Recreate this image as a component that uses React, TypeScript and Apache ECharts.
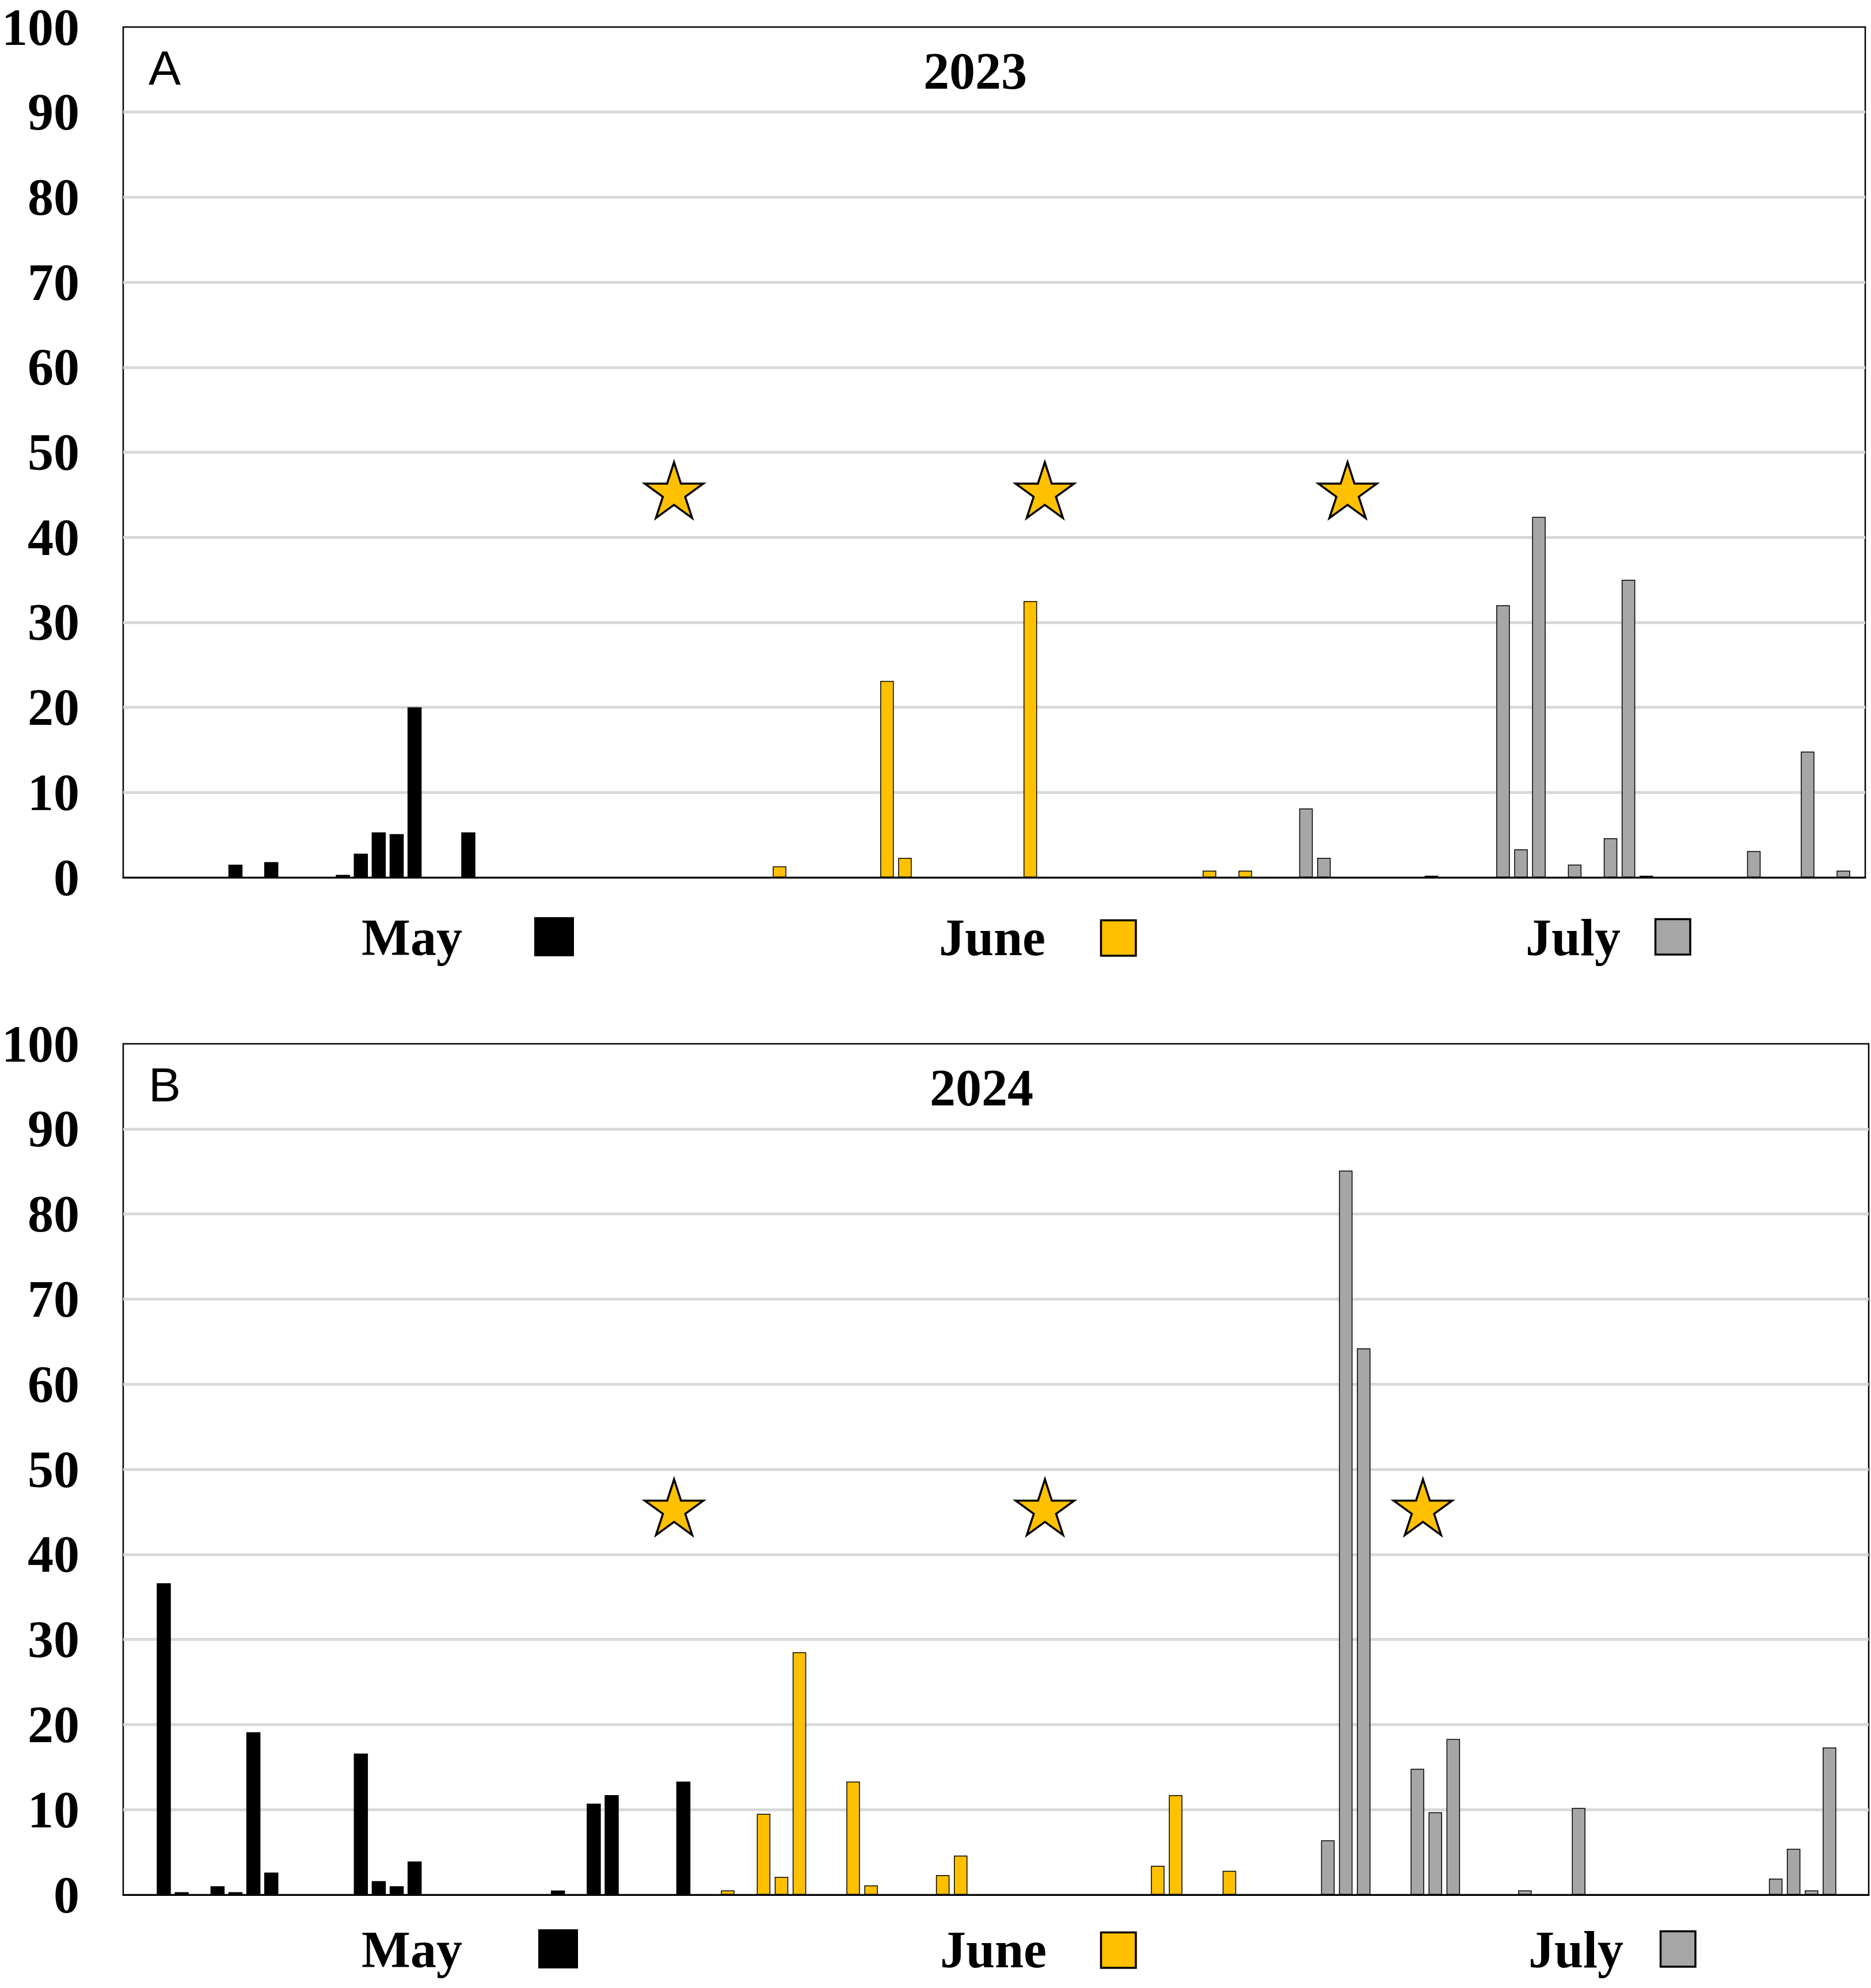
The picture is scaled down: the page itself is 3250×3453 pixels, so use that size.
import React, { useEffect, useRef } from "react";
import * as echarts from "echarts";

// ---- data (slot = day position on the shared x axis) ----
const may2023Days = [6, 8, 12, 13, 14, 15, 16, 19];
const may2023Values = [1.5, 1.8, 0.3, 2.8, 5.3, 5.1, 20.0, 5.3];
const june2023Days = [36, 42, 43, 50, 60, 62];
const june2023Values = [1.3, 23.1, 2.3, 32.5, 0.8, 0.8];
const july2023Days = [65, 66, 72, 76, 77, 78, 80, 82, 83, 84, 90, 93, 95];
const july2023Values = [8.1, 2.3, 0.2, 32.0, 3.3, 42.4, 1.5, 4.6, 35.0, 0.2, 3.1, 14.8, 0.8];
const stars2023Days = [30.5, 51.2, 68.1];

const may2024Days = [2, 3, 5, 6, 7, 8, 13, 14, 15, 16, 24, 26, 27, 31];
const may2024Values = [36.6, 0.3, 1.0, 0.3, 19.1, 2.6, 16.6, 1.6, 1.0, 3.9, 0.5, 10.7, 11.7, 13.3];
const june2024Days = [33, 35, 36, 37, 40, 41, 45, 46, 57, 58, 61];
const june2024Values = [0.5, 9.5, 2.1, 28.5, 13.3, 1.1, 2.3, 4.6, 3.4, 11.7, 2.8];
const july2024Days = [66, 67, 68, 71, 72, 73, 77, 80, 91, 92, 93, 94];
const july2024Values = [6.4, 85.1, 64.2, 14.8, 9.7, 18.3, 0.5, 10.2, 1.9, 5.4, 0.5, 17.3];
const stars2024Days = [30.5, 51.2, 72.3];

const starLevel = 45;
const monthNames = ["May", "June", "July"];
const panelYears = ["2023", "2024"];
const panelLetters = ["A", "B"];

// ---- styles ----
const MONTH_COLORS = ["#000000", "#FFC000", "#A6A6A6"];
const SERIF = "'Liberation Serif', 'Times New Roman', serif";
const SANS = "'Liberation Sans', Arial, sans-serif";

function starPath(): string {
  const R = 50;
  const r = 19;
  const pts: string[] = [];
  for (let k = 0; k < 10; k++) {
    const a = ((-90 + k * 36) * Math.PI) / 180;
    const rad = k % 2 === 0 ? R : r;
    pts.push(`${(50 + rad * Math.cos(a)).toFixed(2)} ${(50 + rad * Math.sin(a)).toFixed(2)}`);
  }
  return "path://M" + pts.join(" L") + " Z";
}

const pair = (days: number[], vals: number[], off: number) =>
  days.map((d, i) => [d + off, vals[i]]);

export default function App() {
  const ref = useRef<HTMLDivElement>(null);

  useEffect(() => {
    document.body.style.margin = "0";
    const chart = echarts.init(ref.current!, null, { renderer: "svg" });

    const grids = [
      { left: 210, top: 47, width: 3030, height: 1477 },
      { left: 210, top: 1813, width: 3036, height: 1478 },
    ];
    const axisMax = [97, 97.18];
    // horizontal cluster offset of gold / gray bars in each panel (in slots)
    const clusterStep = [0.39, 0.495];
    const panelData = [
      [
        pair(may2023Days, may2023Values, 0),
        pair(june2023Days, june2023Values, clusterStep[0]),
        pair(july2023Days, july2023Values, 2 * clusterStep[0]),
      ],
      [
        pair(may2024Days, may2024Values, 0),
        pair(june2024Days, june2024Values, clusterStep[1]),
        pair(july2024Days, july2024Values, 2 * clusterStep[1]),
      ],
    ];
    const starData = [stars2023Days, stars2024Days];

    const series: any[] = [];
    panelData.forEach((months, p) => {
      months.forEach((data, m) => {
        series.push({
          type: "bar",
          name: monthNames[m],
          xAxisIndex: p,
          yAxisIndex: p,
          data,
          barWidth: m === 0 ? 24.5 : 23.5,
          barGap: "-100%",
          itemStyle: {
            color: MONTH_COLORS[m],
            borderColor: "#000",
            borderWidth: m === 0 ? 0 : 1.5,
          },
          z: 3,
        });
      });
      series.push({
        type: "scatter",
        xAxisIndex: p,
        yAxisIndex: p,
        data: starData[p].map((d) => [d, starLevel]),
        symbol: starPath(),
        symbolSize: [102, 97],
        symbolOffset: [0, -8],
        itemStyle: { color: "#FFC000", borderColor: "#000", borderWidth: 3.5, opacity: 1 },
        z: 5,
      });
    });

    const legendRows = [
      {
        y: 1628,
        texts: [628, 1631, 2650],
        squares: [
          { x: 928, y: 1593, w: 69, h: 68 },
          { x: 1912.5, y: 1598.5, w: 60.5, h: 61.5 },
          { x: 2875.5, y: 1596.5, w: 60.5, h: 61.5 },
        ],
      },
      {
        y: 3386,
        texts: [628, 1633, 2655],
        squares: [
          { x: 935, y: 3351, w: 69, h: 68 },
          { x: 1912.5, y: 3356.5, w: 60.5, h: 61.5 },
          { x: 2884.5, y: 3354.5, w: 60.5, h: 61.5 },
        ],
      },
    ];

    const graphic: any[] = [];
    const titleX = [1694, 1705];
    panelYears.forEach((yr, p) => {
      const top = grids[p].top;
      graphic.push({
        type: "text",
        x: titleX[p],
        y: top + 76,
        style: {
          text: yr,
          font: `bold 90px ${SERIF}`,
          fill: "#000",
          textAlign: "center",
          textVerticalAlign: "middle",
        },
        z: 10,
      });
      graphic.push({
        type: "text",
        x: 258,
        y: top + 71,
        style: {
          text: panelLetters[p],
          font: `84px ${SANS}`,
          fill: "#000",
          textAlign: "left",
          textVerticalAlign: "middle",
        },
        z: 10,
      });
      const row = legendRows[p];
      monthNames.forEach((mn, m) => {
        graphic.push({
          type: "text",
          x: row.texts[m],
          y: row.y,
          style: {
            text: mn,
            font: `bold 90px ${SERIF}`,
            fill: "#000",
            textAlign: "left",
            textVerticalAlign: "middle",
          },
          z: 10,
        });
        const sq = row.squares[m];
        graphic.push({
          type: "rect",
          shape: { x: sq.x, y: sq.y, width: sq.w, height: sq.h },
          style: {
            fill: MONTH_COLORS[m],
            stroke: m === 0 ? null : "#000",
            lineWidth: m === 0 ? 0 : 3.5,
          },
          z: 10,
        });
      });
    });

    chart.setOption({
      animation: false,
      backgroundColor: "#ffffff",
      grid: grids.map((g) => ({
        ...g,
        show: true,
        borderColor: "#000",
        borderWidth: 2.5,
        backgroundColor: "transparent",
      })),
      xAxis: grids.map((_, i) => ({
        type: "value",
        gridIndex: i,
        min: -0.25,
        max: axisMax[i],
        axisLine: { show: true, onZero: false, lineStyle: { color: "#000", width: 3 } },
        axisTick: { show: false },
        axisLabel: { show: false },
        splitLine: { show: false },
      })),
      yAxis: grids.map((_, i) => ({
        type: "value",
        gridIndex: i,
        min: 0,
        max: 100,
        interval: 10,
        axisLine: { show: false },
        axisTick: { show: false },
        axisLabel: {
          margin: 76,
          fontFamily: SERIF,
          fontWeight: "bold",
          fontSize: 90,
          lineHeight: 88,
          color: "#000",
        },
        splitLine: {
          show: true,
          showMinLine: false,
          showMaxLine: false,
          lineStyle: { color: "#D9D9D9", width: 5 },
        },
      })),
      series,
      graphic,
    });

    return () => chart.dispose();
  }, []);

  return (
    <div
      ref={ref}
      style={{ position: "absolute", left: 0, top: 0, width: 3250, height: 3453 }}
    />
  );
}
